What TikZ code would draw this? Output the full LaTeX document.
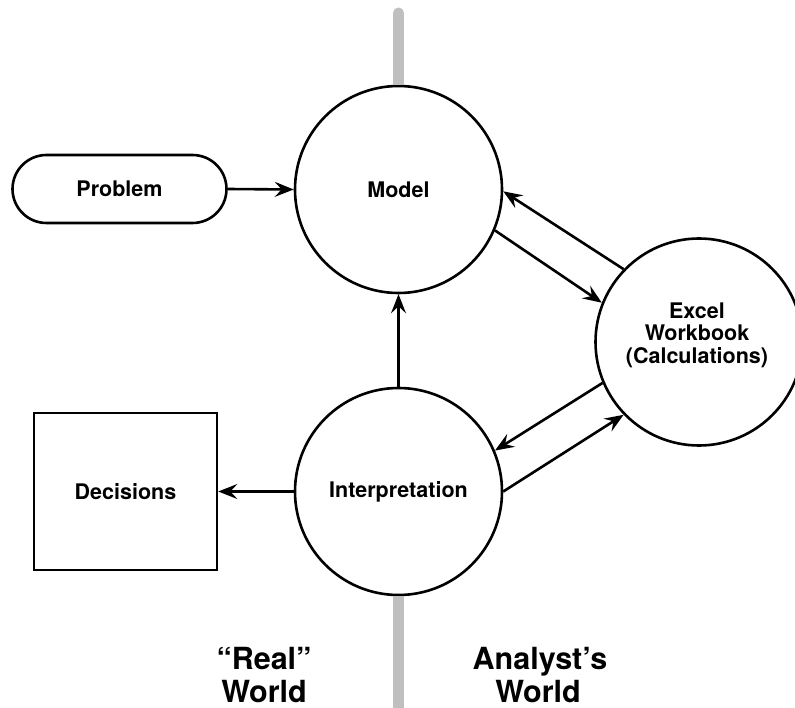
\documentclass[tikz,border=0pt]{standalone}
\usepackage{fontspec}
\setmainfont{TeX Gyre Heros}
\usetikzlibrary{arrows.meta}
\begin{document}
\begin{tikzpicture}[x=1pt,y=-1pt,
  lblfont/.style={font=\fontsize{21.5}{22.5}\selectfont\bfseries},
  bubble/.style={circle, draw, line width=2.6pt, fill=white, minimum size=207pt, inner sep=0pt,
    lblfont, align=center},
  boxlbl/.style={lblfont, align=center, inner sep=0pt},
  worldlbl/.style={font=\fontsize{30.5}{33}\selectfont\bfseries, anchor=base, inner sep=0pt},
  flow/.style={-{Stealth[length=19pt,width=15pt,inset=7pt]}, line width=2.6pt},
  divider/.style={line width=11pt, color=black!25, line cap=round}
]
\useasboundingbox (0,0) rectangle (795,708);

% nodes
\node[bubble] (model) at (398.5,189.5) {Model};
\node[bubble] (interp) at (398.5,491.5) {Interpretation};
\node[bubble] (excel) at (699,342) {};
\node[boxlbl] (exceltext) at (697,335) {Excel\\Workbook\\(Calculations)};
\node[draw, line width=2.6pt, fill=white, rounded corners=34pt, minimum width=214pt, minimum height=68pt,
  lblfont] (problem) at (119.5,189) {Problem};
\node[draw, line width=2.6pt, fill=white, minimum width=183pt, minimum height=157pt,
  lblfont] (decisions) at (125.5,491.5) {Decisions};

% divider line (outside the circles)
\coordinate (divtop) at (398.5,13);
\coordinate (divbot) at (398.5,730);
\draw[divider, line cap=butt] (model.north) -- (398.5,20);
\draw[divider] (398.5,20) -- (divtop);
\draw[divider, line cap=butt] (interp.south) -- (divbot);

% world labels
\node[worldlbl] (real1) at (264,669) {“Real”};
\node[worldlbl] (real2) at (264,702) {World};
\node[worldlbl] (ana1) at (540,669) {Analyst’s};
\node[worldlbl] (ana2) at (538,702) {World};

% connectors
\draw[flow] (problem.east) -- (model.west);
\draw[flow] (interp.north) -- (model.south);
\draw[flow] (interp.west) -- (decisions.east);
\draw[flow] (model.-23) -- (excel.158);
\draw[flow] (excel.136) -- (model.-1);
\draw[flow] (excel.203) -- (interp.23);
\draw[flow] (interp.0) -- (excel.224);
\end{tikzpicture}
\end{document}
